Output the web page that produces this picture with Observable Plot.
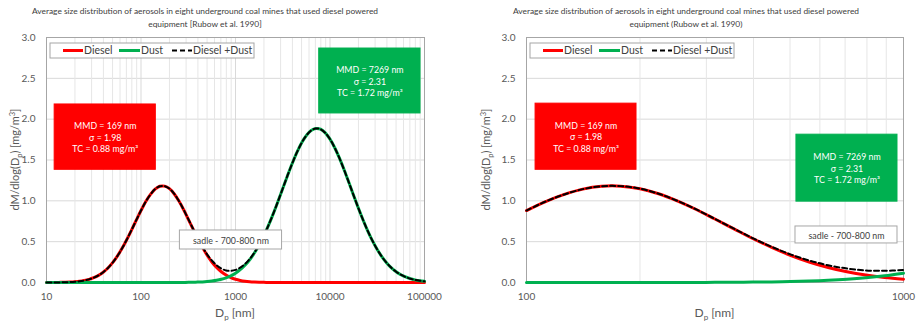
<!DOCTYPE html>
<html>
<head>
<meta charset="utf-8">
<script src="https://cdn.jsdelivr.net/npm/d3@7"></script>
<script src="https://cdn.jsdelivr.net/npm/@observablehq/plot@0.6"></script>
<style>
  body { margin: 0; background: #fff; width: 917px; height: 327px; position: relative; overflow: hidden; font-family: Lato, "Open Sans", sans-serif; }
  .title { position: absolute; top: 5px; width: 440px; text-align: center; font-size: 8.4px; line-height: 13px; color: #404040; white-space: nowrap; }
  .chart { position: absolute; top: 30px; }
</style>
</head>
<body>
<div class="title" style="left:-15px">Average size distribution of aerosols in eight underground coal mines that used diesel powered<br>equipment [Rubow et al. 1990]</div>
<div class="title" style="left:466px">Average size distribution of aerosols in eight underground coal mines that used diesel powered<br>equipment (Rubow et al. 1990)</div>
<div id="left" class="chart" style="left:0px"></div>
<div id="right" class="chart" style="left:460px"></div>
<script>
// Particle diameter Dp [nm]
const diameters = [10, 11.2, 12.6, 14.1, 15.8, 17.8, 20, 22.4, 25.1, 28.2, 31.6, 35.5, 39.8, 44.7, 50.1, 56.2, 63.1, 70.8, 79.4, 89.1,
  100, 112, 126, 141, 158, 178, 200, 224, 251, 282, 316, 355, 398, 447, 501, 562, 631, 708, 794, 891,
  1000, 1122, 1259, 1413, 1585, 1778, 1995, 2239, 2512, 2818, 3162, 3548, 3981, 4467, 5012, 5623, 6310, 7079, 7943, 8913,
  10000, 11220, 12590, 14130, 15850, 17780, 19950, 22390, 25120, 28180, 31620, 35480, 39810, 44670, 50120, 56230, 63100, 70790, 79430, 89130,
  100000];
// dM/dlog(Dp) [mg/m3]
const diesel = [0.0002, 0.0004, 0.0009, 0.0016, 0.0029, 0.0052, 0.0089, 0.0149, 0.0241, 0.0380, 0.0583, 0.0869, 0.1260, 0.1775, 0.2430, 0.3233, 0.4182, 0.5258, 0.6424, 0.7631,
  0.8810, 0.9886, 1.0784, 1.1432, 1.1781, 1.1800, 1.1489, 1.0872, 1.0000, 0.8941, 0.7771, 0.6564, 0.5389, 0.4300, 0.3336, 0.2516, 0.1844, 0.1314, 0.0909, 0.0612,
  0.0400, 0.0255, 0.0157, 0.0094, 0.0055, 0.0031, 0.0017, 0.0009, 0.0005, 0.0002, 0.0001, 0, 0, 0, 0, 0, 0, 0, 0, 0,
  0, 0, 0, 0, 0, 0, 0, 0, 0, 0, 0, 0, 0, 0, 0, 0, 0, 0, 0, 0,
  0];
const dust = [0, 0, 0, 0, 0, 0, 0, 0, 0, 0, 0, 0, 0, 0, 0, 0, 0, 0, 0, 0,
  0, 0, 0, 0, 0.0001, 0.0001, 0.0002, 0.0003, 0.0006, 0.0010, 0.0017, 0.0028, 0.0046, 0.0073, 0.0115, 0.0176, 0.0266, 0.0394, 0.0572, 0.0815,
  0.1140, 0.1565, 0.2107, 0.2782, 0.3607, 0.4588, 0.5727, 0.7016, 0.8434, 0.9947, 1.1511, 1.3076, 1.4570, 1.5933, 1.7099, 1.8005, 1.8603, 1.8862, 1.8766, 1.8320,
  1.7550, 1.6499, 1.5219, 1.3776, 1.2236, 1.0664, 0.9120, 0.7654, 0.6303, 0.5093, 0.4038, 0.3142, 0.2399, 0.1797, 0.1322, 0.0953, 0.0675, 0.0469, 0.0319, 0.0214,
  0.0140];
const total = [0.0002, 0.0004, 0.0009, 0.0016, 0.0029, 0.0052, 0.0089, 0.0149, 0.0241, 0.0380, 0.0583, 0.0869, 0.1260, 0.1775, 0.2430, 0.3233, 0.4182, 0.5258, 0.6424, 0.7631,
  0.8810, 0.9886, 1.0784, 1.1432, 1.1782, 1.1801, 1.1491, 1.0875, 1.0006, 0.8951, 0.7788, 0.6592, 0.5435, 0.4373, 0.3451, 0.2692, 0.2110, 0.1708, 0.1481, 0.1427,
  0.1540, 0.1820, 0.2264, 0.2876, 0.3662, 0.4619, 0.5744, 0.7025, 0.8439, 0.9949, 1.1512, 1.3076, 1.4570, 1.5933, 1.7099, 1.8005, 1.8603, 1.8862, 1.8766, 1.8320,
  1.7550, 1.6499, 1.5219, 1.3776, 1.2236, 1.0664, 0.9120, 0.7654, 0.6303, 0.5093, 0.4038, 0.3142, 0.2399, 0.1797, 0.1322, 0.0953, 0.0675, 0.0469, 0.0319, 0.0214,
  0.0140];

const yTicks = [0, 0.5, 1.0, 1.5, 2.0, 2.5, 3.0];
const xTicksLeft = [10, 100, 1000, 10000, 100000];
const xTicksRight = [100, 1000];

const dieselText = "MMD = 169 nm\nσ = 1.98\nTC = 0.88 mg/m³";
const dustText = "MMD = 7269 nm\nσ = 2.31\nTC = 1.72 mg/m³";
const saddleText = "sadle - 700-800 nm";

const RED = "#ff0000", GREEN = "#00b050", GRID = "#d9d9d9", AXIS = "#595959";

const rows = diameters.map((d, i) => ({d, diesel: diesel[i], dust: dust[i], total: total[i]}));

function minorTicks(lo, hi) {
  const out = [];
  for (let dec = lo; dec < hi; dec *= 10) for (let k = 2; k <= 9; k++) out.push(dec * k);
  return out;
}

function panel(opts) {
  const {width, marginLeft, marginRight, domain, xTicks, data, notes, ylabelX} = opts;
  const height = 297, marginTop = 7, marginBottom = 45;
  const chart = Plot.plot({
    width, height, marginLeft, marginRight, marginTop, marginBottom,
    style: {fontFamily: "Lato, 'Open Sans', sans-serif", fontSize: "10px", color: AXIS, background: "#fff"},
    x: {type: "log", domain, ticks: xTicks, tickFormat: d => String(d), tickSize: 0, tickPadding: 10, label: null},
    y: {domain: [0, 3], ticks: yTicks, tickFormat: d => d.toFixed(1), tickSize: 0, tickPadding: 11, label: null},
    marks: [
      Plot.ruleY(yTicks, {stroke: GRID, strokeWidth: 1}),
      Plot.ruleX(minorTicks(domain[0], domain[1]), {stroke: "#e6e6e6", strokeWidth: 1}),
      Plot.ruleX(xTicks, {stroke: GRID, strokeWidth: 1}),
      Plot.frame({stroke: "#a6a6a6", strokeWidth: 1}),
      Plot.line(data, {x: "d", y: "diesel", stroke: RED, strokeWidth: 3, curve: "catmull-rom"}),
      Plot.line(data, {x: "d", y: "dust", stroke: GREEN, strokeWidth: 3, curve: "catmull-rom"}),
      Plot.line(data, {x: "d", y: "total", stroke: "#000", strokeWidth: 2, strokeDasharray: "5,3", curve: "catmull-rom"}),
      Plot.rect(notes, {x1: "x1", x2: "x2", y1: "y1", y2: "y2", fill: "fill", stroke: "stroke", strokeWidth: 1}),
      Plot.text(notes, {x: n => Math.sqrt(n.x1 * n.x2), y: n => (n.y1 + n.y2) / 2, text: "text", fill: "color", fontSize: "size", lineHeight: 1.3})
    ]
  });
  const svg = d3.select(chart);
  const plotLeft = marginLeft, plotRight = width - marginRight;
  const cy = marginTop + (height - marginTop - marginBottom) / 2;
  // y-axis label
  const yl = svg.append("text")
    .attr("transform", `translate(${ylabelX},${cy}) rotate(-90)`)
    .attr("text-anchor", "middle").attr("font-size", 11).attr("fill", AXIS);
  yl.append("tspan").text("dM/dlog(D");
  yl.append("tspan").attr("font-size", 7.5).attr("dy", 2.5).text("p");
  yl.append("tspan").attr("dy", -2.5).text(") [mg/m");
  yl.append("tspan").attr("font-size", 7.5).attr("dy", -4).text("3");
  yl.append("tspan").attr("dy", 4).text("]");
  // x-axis label
  const xl = svg.append("text")
    .attr("x", (plotLeft + plotRight) / 2).attr("y", 287)
    .attr("text-anchor", "middle").attr("font-size", 12).attr("fill", AXIS);
  xl.append("tspan").text("D");
  xl.append("tspan").attr("font-size", 8).attr("dy", 3).text("p");
  xl.append("tspan").attr("dy", -3).text(" [nm]");
  // legend
  const lg = svg.append("g").attr("transform", `translate(${plotLeft + 4},13)`);
  lg.append("rect").attr("width", 204).attr("height", 15).attr("fill", "#fff").attr("stroke", "#a6a6a6");
  const items = [
    {label: "Diesel", color: RED, dash: null, w: 3, x0: 13, x1: 33},
    {label: "Dust", color: GREEN, dash: null, w: 3, x0: 69, x1: 90},
    {label: "Diesel +Dust", color: "#000", dash: "5,3", w: 2, x0: 122, x1: 142}
  ];
  for (const it of items) {
    lg.append("line").attr("x1", it.x0).attr("x2", it.x1).attr("y1", 7.5).attr("y2", 7.5)
      .attr("stroke", it.color).attr("stroke-width", it.w).attr("stroke-dasharray", it.dash);
    lg.append("text").attr("x", it.x1 + 1).attr("y", 11.2).attr("text-anchor", "start")
      .attr("font-size", 10.5).attr("fill", "#404040").text(it.label);
  }
  return chart;
}

const leftNotes = [
  {x1: 12.2, x2: 143.5, y1: 1.38, y2: 2.18, fill: RED, stroke: RED, text: dieselText, color: "#fff", size: 8.8},
  {x1: 7690, x2: 90800, y1: 2.07, y2: 2.865, fill: GREEN, stroke: GREEN, text: dustText, color: "#fff", size: 8.8},
  {x1: 258, x2: 3110, y1: 0.404, y2: 0.637, fill: "#fff", stroke: "#a6a6a6", text: saddleText, color: "#404040", size: 8.8}
];
const rightNotes = [
  {x1: 105.7, x2: 195.8, y1: 1.38, y2: 2.19, fill: RED, stroke: RED, text: dieselText, color: "#fff", size: 8.8},
  {x1: 520, x2: 964, y1: 0.99, y2: 1.81, fill: GREEN, stroke: GREEN, text: dustText, color: "#fff", size: 8.8},
  {x1: 517, x2: 964, y1: 0.478, y2: 0.686, fill: "#fff", stroke: "#a6a6a6", text: saddleText, color: "#404040", size: 8.8}
];

document.getElementById("left").appendChild(panel({
  width: 460, marginLeft: 46, marginRight: 36, domain: [10, 100000], xTicks: xTicksLeft,
  data: rows, notes: leftNotes, ylabelX: 19
}));
document.getElementById("right").appendChild(panel({
  width: 457, marginLeft: 66, marginRight: 14, domain: [100, 1000], xTicks: xTicksRight,
  data: rows.filter(r => r.d >= 100 && r.d <= 1000), notes: rightNotes, ylabelX: 30
}));
</script>
</body>
</html>
